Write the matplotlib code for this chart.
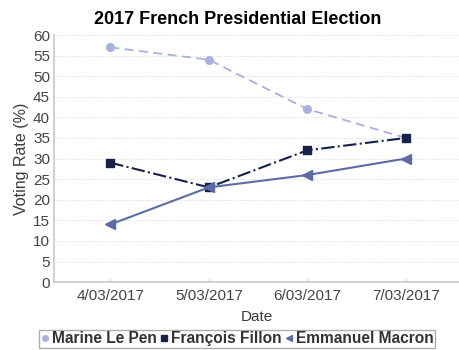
import matplotlib
matplotlib.use('Agg')
import matplotlib.pyplot as plt
from matplotlib.lines import Line2D

plt.rcParams['font.family'] = ['Liberation Sans', 'DejaVu Sans']

dates = ['4/03/2017', '5/03/2017', '6/03/2017', '7/03/2017']
le_pen = [57, 54, 42, 35]
fillon = [29, 23, 32, 35]
macron = [14, 23, 26, 30]

c_lepen = '#a7b1de'
c_fillon = '#17214a'
c_macron = '#5d6ba6'

fig = plt.figure(figsize=(4.59, 3.5), dpi=100)
ax = fig.add_axes([0.118, 0.194, 0.882, 0.706])

x = [i + 0.5 for i in range(len(dates))]
ax.plot(x, le_pen, color=c_lepen, ls=(0, (5, 3)), lw=1.3, marker='o', ms=5.5)
ax.plot(x, fillon, color=c_fillon, ls='-.', lw=1.5, marker='s', ms=5.5)
ax.plot(x, macron, color=c_macron, ls='-', lw=1.5, marker='<', ms=6.5)

ax.set_xlim(-0.07, 4.04)
ax.set_ylim(0, 60)
ax.set_yticks(range(0, 61, 5))
ax.set_xticks(x)
ax.set_xticklabels(dates)
ax.tick_params(axis='both', labelsize=11, colors='#444444', length=0, pad=3)
ax.tick_params(axis='x', length=3, width=0.8, color='#d0d0d0', direction='in', pad=5)
ax.yaxis.grid(True, color='#d0d0d0', lw=0.6, ls=':')
ax.set_axisbelow(True)
for s in ['top', 'right']:
    ax.spines[s].set_visible(False)
for s in ['left', 'bottom']:
    ax.spines[s].set_color('#c8c8c8')
    ax.spines[s].set_linewidth(1.2)

fig.suptitle('2017 French Presidential Election', x=0.517, y=0.97,
             fontsize=13, fontweight='bold')
ax.set_ylabel('Voting Rate (%)', fontsize=11.5, color='#3a3a3a', labelpad=3)
ax.set_xlabel('Date', fontsize=11, color='#3a3a3a', labelpad=5)

handles = [
    Line2D([], [], ls='none', marker='o', color=c_lepen, ms=4),
    Line2D([], [], ls='none', marker='s', color=c_fillon, ms=4),
    Line2D([], [], ls='none', marker='<', color=c_macron, ms=5),
]
leg = fig.legend(handles, ['Marine Le Pen', 'François Fillon', 'Emmanuel Macron'],
                 loc='lower center', bbox_to_anchor=(0.516, 0.0), ncol=3,
                 fontsize=11.2, frameon=True, fancybox=False, edgecolor='#999999',
                 handlelength=0.6, handletextpad=0.15, columnspacing=0.15,
                 borderpad=0.1, borderaxespad=0.15)
for t in leg.get_texts():
    t.set_fontweight('bold')
    t.set_color('#333333')

fig.savefig('out.png', dpi=100)
